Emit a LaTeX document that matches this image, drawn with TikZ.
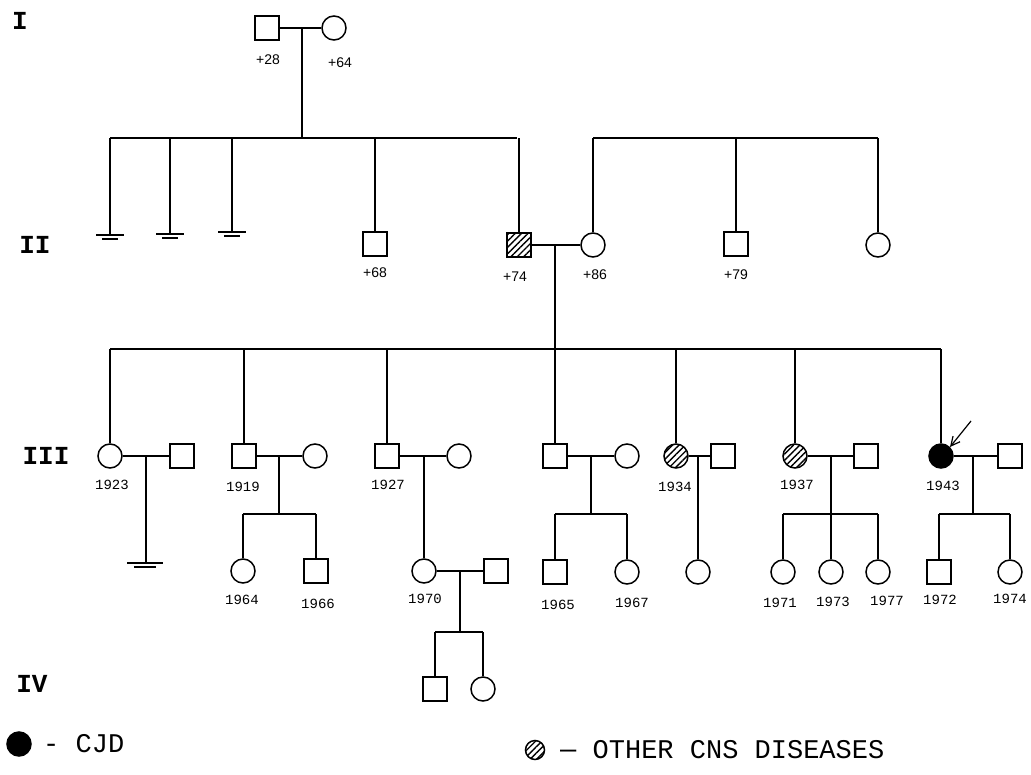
\documentclass[tikz,border=0pt]{standalone}
\usepackage{fontspec}
\usetikzlibrary{patterns.meta,arrows.meta}
\newfontfamily\pmono{Liberation Mono}
\newfontfamily\psans{Liberation Sans}
\begin{document}
\begin{tikzpicture}[x=1pt,y=-1pt,
 every node/.style={inner sep=0pt},
 male/.style={draw,rectangle,minimum size=24pt,line width=1.5pt},
 female/.style={draw,circle,minimum size=24pt,line width=1.5pt},
 hatch/.style={pattern={Lines[angle=45,distance=4.5pt,line width=1.4pt]}},
 affected/.style={fill=black},
 edge/.style={line width=1.3pt},
 gen/.style={font=\pmono\bfseries\fontsize{26}{26}\selectfont},
 age/.style={font=\psans\fontsize{14}{14}\selectfont},
 yr/.style={font=\pmono\fontsize{14}{14}\selectfont},
 legend/.style={font=\pmono\fontsize{27}{27}\selectfont,anchor=west},
 arrowtip/.style={-{Straight Barb[length=9pt,width=9pt]},line width=1.2pt}
]
\useasboundingbox (0,0) rectangle (1031,774);
\fill[white] (0,0) rectangle (1031,774);

% generation labels
\node[gen] (gI) at (20,21) {I};
\node[gen] (gII) at (35,245) {II};
\node[gen] (gIII) at (46,456) {III};
\node[gen] (gIV) at (32,684) {IV};

% ---------- Generation I
\node[male] (I1) at (267,28) {};
\node[female] (I2) at (334,28) {};
\node[age] (tI1) at (268,60) {+28};
\node[age] (tI2) at (340,63) {+64};
\coordinate (mI) at (302,28);
\coordinate (sIIa) at (110,138);
\coordinate (sIIb) at (517,138);
\draw[edge] (I1) -- (I2);
\draw[edge] (mI) -- (mI |- sIIa);
\draw[edge] (sIIa) -- (sIIb);

% ---------- Generation II
\coordinate (g1) at (110,235);
\coordinate (g2) at (170,234);
\coordinate (g3) at (232,232);
\foreach \g in {g1,g2,g3}{
  \draw[edge] (\g |- sIIa) -- (\g);
  \draw[edge] (\g) ++(-14,0) -- ++(28,0);
  \draw[edge] (\g) ++(-8,4) -- ++(16,0);
}
\node[male] (II4) at (375,244) {};
\node[male,hatch] (II5) at (519,245) {};
\node[female] (II6) at (593,245) {};
\node[male] (II7) at (736,244) {};
\node[female] (II8) at (878,245) {};
\node[age] (tII4) at (375,273) {+68};
\node[age] (tII5) at (515,277) {+74};
\node[age] (tII6) at (595,275) {+86};
\node[age] (tII7) at (736,275) {+79};
\draw[edge] (II4.north) -- (II4.north |- sIIa);
\draw[edge] (II5.north) -- (II5.north |- sIIa);
\coordinate (sIIc) at (593,138);
\coordinate (sIId) at (878,138);
\draw[edge] (sIIc) -- (sIId);
\draw[edge] (II6.north) -- (II6.north |- sIIc);
\draw[edge] (II7.north) -- (II7.north |- sIIc);
\draw[edge] (II8.north) -- (II8.north |- sIIc);
\draw[edge] (II5) -- (II6);
\coordinate (mII) at (555,245);
\coordinate (sIIIa) at (110,349);
\coordinate (sIIIb) at (941,349);
\draw[edge] (mII) -- (mII |- sIIIa);
\draw[edge] (sIIIa) -- (sIIIb);

% ---------- Generation III
\node[female] (III1) at (110,456) {};
\node[male] (III1s) at (182,456) {};
\node[male] (III2) at (244,456) {};
\node[female] (III2s) at (315,456) {};
\node[male] (III3) at (387,456) {};
\node[female] (III3s) at (459,456) {};
\node[male] (III4) at (555,456) {};
\node[female] (III4s) at (627,456) {};
\node[female,hatch] (III5) at (676,456) {};
\node[male] (III5s) at (723,456) {};
\node[female,hatch] (III6) at (795,456) {};
\node[male] (III6s) at (866,456) {};
\node[female,affected] (III7) at (941,456) {};
\node[male] (III7s) at (1010,456) {};
\foreach \n in {III1,III2,III3,III4,III5,III6,III7}{
  \draw[edge] (\n.north) -- (\n.north |- sIIIa);
  \draw[edge] (\n) -- (\n s);
}
\node[yr] (tIII1) at (112,485) {1923};
\node[yr] (tIII2) at (243,487) {1919};
\node[yr] (tIII3) at (388,485) {1927};
\node[yr] (tIII5) at (675,487) {1934};
\node[yr] (tIII6) at (797,485) {1937};
\node[yr] (tIII7) at (943,486) {1943};
\coordinate (arrS) at (971,421);
\draw[arrowtip] (arrS) -- (III7.north east);

% III1 family (no offspring)
\coordinate (m1) at (146,456);
\coordinate (g4) at (145,563);
\draw[edge] (m1) -- (m1 |- g4);
\draw[edge] (g4) ++(-18,0) -- ++(36,0);
\draw[edge] (g4) ++(-11,4) -- ++(22,0);

% III2 family
\coordinate (m2) at (279,456);
\coordinate (s2a) at (243,514);
\coordinate (s2b) at (316,514);
\node[female] (C21) at (243,571) {};
\node[male] (C22) at (316,571) {};
\draw[edge] (m2) -- (m2 |- s2a);
\draw[edge] (s2a) -- (s2b);
\draw[edge] (C21.north) -- (C21.north |- s2a);
\draw[edge] (C22.north) -- (C22.north |- s2a);
\node[yr] (tC21) at (242,600) {1964};
\node[yr] (tC22) at (318,604) {1966};

% III3 family
\coordinate (m3) at (424,456);
\node[female] (C31) at (424,571) {};
\node[male] (C31s) at (496,571) {};
\draw[edge] (m3) -- (C31.north);
\draw[edge] (C31) -- (C31s);
\node[yr] (tC31) at (425,599) {1970};
\coordinate (m31) at (460,571);
\coordinate (s31a) at (435,632);
\coordinate (s31b) at (483,632);
\node[male] (D1) at (435,689) {};
\node[female] (D2) at (483,689) {};
\draw[edge] (m31) -- (m31 |- s31a);
\draw[edge] (s31a) -- (s31b);
\draw[edge] (D1.north) -- (D1.north |- s31a);
\draw[edge] (D2.north) -- (D2.north |- s31a);

% III4 family
\coordinate (m4) at (591,456);
\coordinate (s4a) at (555,514);
\coordinate (s4b) at (627,514);
\node[male] (C41) at (555,572) {};
\node[female] (C42) at (627,572) {};
\draw[edge] (m4) -- (m4 |- s4a);
\draw[edge] (s4a) -- (s4b);
\draw[edge] (C41.north) -- (C41.north |- s4a);
\draw[edge] (C42.north) -- (C42.north |- s4a);
\node[yr] (tC41) at (558,605) {1965};
\node[yr] (tC42) at (632,603) {1967};

% III5 family
\coordinate (m5) at (698,456);
\node[female] (C51) at (698,572) {};
\draw[edge] (m5) -- (C51.north);

% III6 family
\coordinate (m6) at (831,456);
\coordinate (s6a) at (783,514);
\coordinate (s6b) at (878,514);
\node[female] (C61) at (783,572) {};
\node[female] (C62) at (831,572) {};
\node[female] (C63) at (878,572) {};
\draw[edge] (m6) -- (m6 |- s6a);
\draw[edge] (s6a) -- (s6b);
\draw[edge] (C61.north) -- (C61.north |- s6a);
\draw[edge] (C62.north) -- (C62.north |- s6a);
\draw[edge] (C63.north) -- (C63.north |- s6a);
\node[yr] (tC61) at (780,603) {1971};
\node[yr] (tC62) at (833,602) {1973};
\node[yr] (tC63) at (887,601) {1977};

% III7 family
\coordinate (m7) at (973,456);
\coordinate (s7a) at (939,514);
\coordinate (s7b) at (1010,514);
\node[male] (C71) at (939,572) {};
\node[female] (C72) at (1010,572) {};
\draw[edge] (m7) -- (m7 |- s7a);
\draw[edge] (s7a) -- (s7b);
\draw[edge] (C71.north) -- (C71.north |- s7a);
\draw[edge] (C72.north) -- (C72.north |- s7a);
\node[yr] (tC71) at (940,600) {1972};
\node[yr] (tC72) at (1010,599) {1974};

% ---------- Legend
\node[female,affected,minimum size=24pt] (L1) at (19,744) {};
\node[legend] (L1t) at (43,744) {- CJD};
\node[female,hatch,minimum size=19pt] (L2) at (535,750) {};
\node[legend] (L2t) at (560,750) {{\fontspec{DejaVu Sans Mono}–} OTHER CNS DISEASES};
\end{tikzpicture}
\end{document}
